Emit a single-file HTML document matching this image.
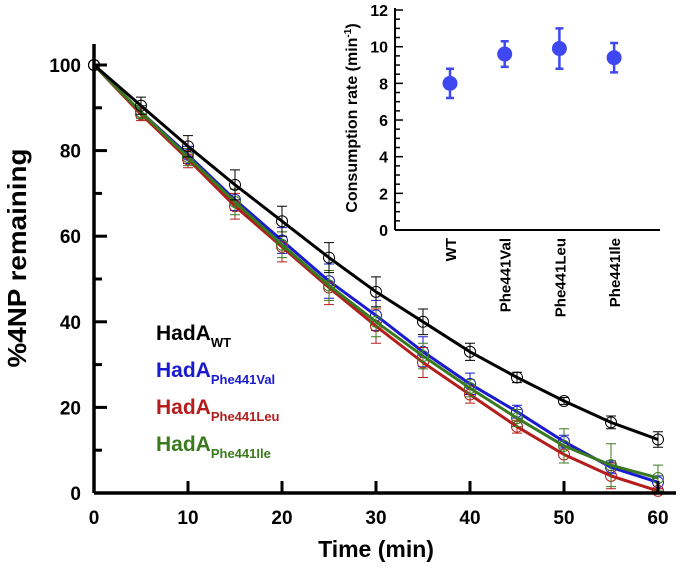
<!DOCTYPE html>
<html><head><meta charset="utf-8"><style>
body{margin:0;background:#fff}
svg{display:block;font-family:"Liberation Sans",Arial,sans-serif}
</style></head><body>
<svg id="c" width="680" height="568" viewBox="0 0 680 568"></svg>
<script>
const times=[0,5,10,15,20,25,30,35,40,45,50,55,60];
const wtVals=[100,90.5,81,72,63.5,55,47,40,33,27,21.5,16.5,12.5];
const wtErr=[0,2,2.5,3.5,3.5,3.5,3.5,3,2,1.2,0.8,1.5,1.8];
const valVals=[100,89,79,68.5,59,49.5,41.5,33,25.5,19,12,6,2.5];
const valErr=[0,1.5,2,2.5,3,4,3.5,3.5,2.5,1.5,1.5,1.5,1.5];
const leuVals=[100,88.5,78,67,57.5,48,39,30.5,23,15.5,9,4,0.5];
const leuErr=[0,1.5,2,3,3.5,4,4,3.5,2,1.5,2,3,0.5];
const ileVals=[100,89,78.5,68,58,48.5,40,32,24.5,17.5,11,6.5,3.5];
const ileErr=[0,1.5,2,3,3,3.5,3.5,3,2,2,4,5,3];
const xTicks=[0,10,20,30,40,50,60];
const yTicks=[0,20,40,60,80,100];
const insetCats=["WT","Phe441Val","Phe441Leu","Phe441Ile"];
const insetVals=[8.0,9.6,9.9,9.4];
const insetErr=[0.8,0.7,1.1,0.8];
const insetTicks=[0,2,4,6,8,10,12];

const svg=document.getElementById('c');
const NS='http://www.w3.org/2000/svg';
function mk(t,a,txt){const e=document.createElementNS(NS,t);for(const k in a)e.setAttribute(k,a[k]);if(txt!==undefined)e.textContent=txt;svg.appendChild(e);return e;}
const X=v=>94+v*9.4;
const Y=v=>493-v*4.28;
const IY=v=>230-v*18.33;

const series=[
 {n:'wt',vals:wtVals,err:wtErr,c:'#000'},
 {n:'phe441val',vals:valVals,err:valErr,c:'#1a1ad0'},
 {n:'phe441ile',vals:ileVals,err:ileErr,c:'#3a7a1e'},
 {n:'phe441leu',vals:leuVals,err:leuErr,c:'#b51c1c'}
];
[series[1],series[3],series[2],series[0]].forEach(s=>{
  let d='';
  s.vals.forEach((v,i)=>{d+=(i?'L':'M')+X(times[i]).toFixed(1)+' '+Y(v).toFixed(1);});
  const p=mk('path',{d:d,fill:'none',stroke:s.c,'stroke-width':3,'stroke-linejoin':'round'});
  
  
  s.vals.forEach((v,i)=>{
    const x=X(times[i]),e=s.err[i];
    if(e>0){
      const b=mk('path',{d:`M${x} ${Y(v+e)}V${Y(v-e)}M${x-5} ${Y(v+e)}h10M${x-5} ${Y(v-e)}h10`,stroke:s.c,'stroke-width':1,fill:'none'});
      
      
    }
    const c=mk('circle',{cx:x,cy:Y(v),r:5.5,fill:'none',stroke:s.c,'stroke-width':1});
    
    
  });
});

let a=mk('path',{d:'M94 493H676M94 493V44',stroke:'#000','stroke-width':3.5,fill:'none'});


xTicks.forEach(t=>{
  const l=mk('line',{x1:X(t),x2:X(t),y1:493,y2:481,stroke:'#000','stroke-width':3});
  
  
  const tx=mk('text',{x:X(t),y:524,'text-anchor':'middle','font-size':19,'font-weight':'bold'},t);
  
  
});
for(let t=0;t<=100;t+=10){
  const l=mk('line',{x1:94,x2:t%20==0?107:102,y1:Y(t),y2:Y(t),stroke:'#000','stroke-width':3});
  
  
}
yTicks.forEach(t=>{
  const tx=mk('text',{x:81,y:Y(t)+7,'text-anchor':'end','font-size':19,'font-weight':'bold'},t);
  
  
});
let xt=mk('text',{x:376,y:557,'text-anchor':'middle','font-size':23,'font-weight':'bold'},'Time (min)');


let yt=mk('text',{x:0,y:0,transform:'translate(26 258) rotate(-90)','text-anchor':'middle','font-size':26,'font-weight':'bold',textLength:219,lengthAdjust:'spacingAndGlyphs'},'%4NP remaining');



const leg=[['WT','#000'],['Phe441Val','#1a1ad0'],['Phe441Leu','#b51c1c'],['Phe441Ile','#3a7a1e']];
leg.forEach((l,i)=>{
  const t=mk('text',{x:156,y:340+i*37,'font-size':21,'font-weight':'bold',fill:l[1]});
  
  
  const a1=document.createElementNS(NS,'tspan');a1.textContent='HadA';t.appendChild(a1);
  const a2=document.createElementNS(NS,'tspan');a2.setAttribute('font-size','13');a2.setAttribute('dy','7');a2.textContent=l[0];t.appendChild(a2);
});

let ia=mk('path',{d:'M395 230H660M395 230V8',stroke:'#000','stroke-width':2,fill:'none'});


for(let t=0;t<=12;t+=0.5){
  const l=mk('line',{x1:395,x2:t%2==0?403:400,y1:IY(t),y2:IY(t),stroke:'#000','stroke-width':1.5});
  
  
}
insetTicks.forEach(t=>{
  const tx=mk('text',{x:388,y:IY(t)+6,'text-anchor':'end','font-size':16,'font-weight':'bold'},t);
  
  
});
let it=mk('text',{x:0,y:0,transform:'translate(357 118) rotate(-90)','text-anchor':'middle','font-size':16,'font-weight':'bold'});


it.innerHTML='Consumption rate (min<tspan font-size="10" dy="-6">-1</tspan><tspan dy="6">)</tspan>';
insetCats.forEach((c,i)=>{
  const x=450+i*54.7,v=insetVals[i],e=insetErr[i];
  const b=mk('path',{d:`M${x} ${IY(v+e)}V${IY(v-e)}M${x-4} ${IY(v+e)}h8M${x-4} ${IY(v-e)}h8`,stroke:'#3f48f0','stroke-width':2.5,fill:'none'});
  
  
  const p=mk('circle',{cx:x,cy:IY(v),r:7.5,fill:'#3f48f0'});
  
  
  const t=mk('text',{x:0,y:0,transform:`translate(${x+6} 238) rotate(-90)`,'text-anchor':'end','font-size':15,'font-weight':'bold'},c);
  
  
});
</script>
</body></html>
